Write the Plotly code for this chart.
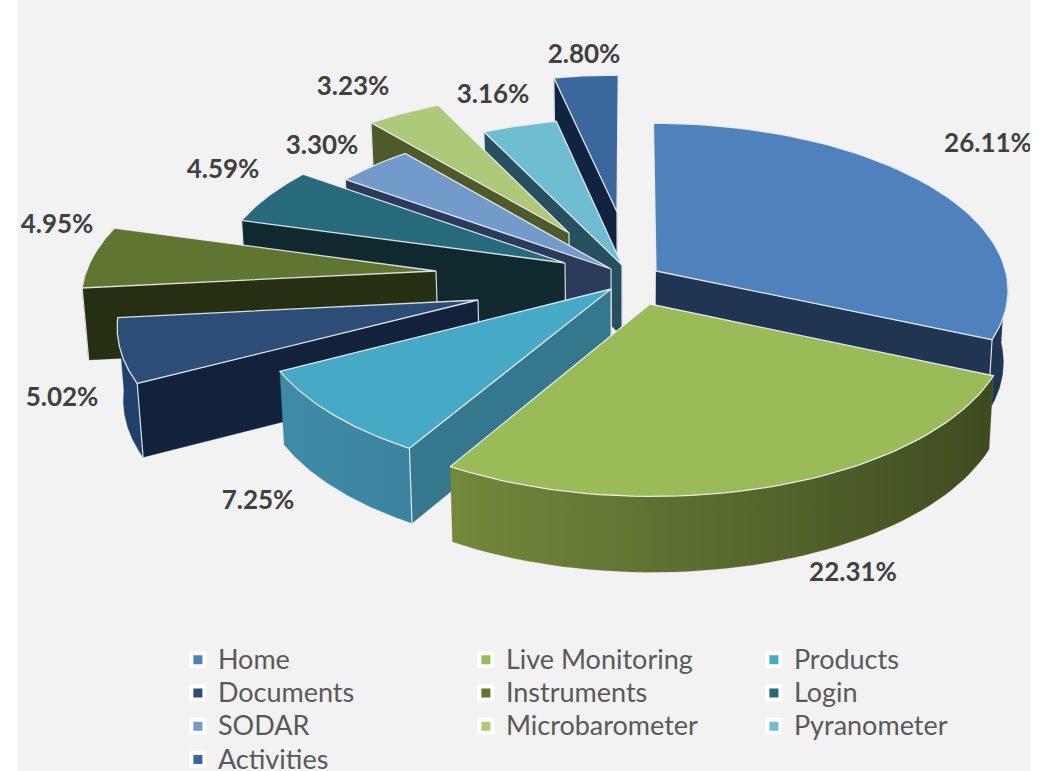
import numpy as np
import plotly.graph_objects as go

CATEGORIES = ["Home", "Live Monitoring", "Products", "Documents", "Instruments",
              "Login", "SODAR", "Microbarometer", "Pyranometer", "Activities"]
VALUES = [26.11, 22.31, 7.25, 5.02, 4.95, 4.59, 3.30, 3.23, 3.16, 2.80]

TOP = ["#4f81bd", "#9bbb59", "#46a9c5", "#2c4d75", "#5f7530",
       "#276a7c", "#729aca", "#afc97a", "#6fbdd1", "#3a679c"]
RADIAL = ["#1f3552", "#3f4a20", "#35778d", "#11223a", "#262f11",
          "#10292f", "#2a3a5a", "#4e5a2a", "#27505e", "#10233f"]
OUTER = [["#1f3552", "#1f3552"], ["#73893c", "#3e4b20"], ["#3f8ba6", "#3b84a0"], ["#21416b", "#21416b"],
         ["#262f11", "#262f11"], ["#10292f", "#10292f"], ["#2a3a5a", "#2a3a5a"], ["#4e5a2a", "#4e5a2a"],
         ["#27505e", "#27505e"], ["#10233f", "#10233f"]]
# where each exploded slice's tip ends up on the page
TIPS = [(656, 271), (650, 304), (611, 289), (478, 300), (436, 271),
        (565, 263), (611, 269), (569, 233), (622, 265), (617, 212)]
LABEL_AT = [(988, 145), (853, 574), (258, 502), (62, 399), (57, 226),
            (223, 171), (322, 147), (353, 88), (493, 96), (584, 56)]
DRAW_ORDER = [9, 8, 7, 6, 5, 4, 3, 2, 0, 1]

CX, CY, RX, RY, PERSP, DEPTH, CONVERGE = 630.0, 290.0, 354.0, 168.0, 0.11, 72.0, 0.012
EDGE = "rgba(236,241,245,0.9)"


def scale(Y):
    return 1.0 / (1.0 - PERSP * Y)


def project(X, Y, below=False):
    s = scale(Y)
    sx = CX + s * RX * X
    sy = CY + s * RY * Y
    if below:
        sy = sy + DEPTH * s ** 0.4
        sx = sx - (sx - CX) * CONVERGE
    return sx, sy


def unproject(px, py):
    d = py - CY
    Y = d / (RY + PERSP * d)
    return (px - CX) / (scale(Y) * RX), Y


shares = np.array(VALUES) / sum(VALUES) * 360.0
ends = np.cumsum(shares)
starts = ends - shares

fig = go.Figure()


def poly(xs, ys, color, line=None, gradient=None):
    kw = dict(x=list(xs) + [xs[0]], y=list(ys) + [ys[0]], mode="lines", fill="toself",
              showlegend=False, hoverinfo="skip",
              line=dict(color=line or color, width=1.3 if line else 0.3))
    if gradient:
        kw["fillgradient"] = dict(type="horizontal", colorscale=[[0, gradient[0]], [1, gradient[1]]])
    else:
        kw["fillcolor"] = color
    fig.add_trace(go.Scatter(**kw))


def vertical(X, Y):
    x0, y0 = project(X, Y)
    x1, y1 = project(X, Y, below=True)
    fig.add_trace(go.Scatter(x=[x0, x1], y=[y0, y1], mode="lines", showlegend=False,
                             hoverinfo="skip", line=dict(color=EDGE, width=1.2)))


for i in DRAW_ORDER:
    a, b = starts[i], ends[i]
    X0, Y0 = unproject(*TIPS[i])

    def rim(t):
        r = np.radians(t)
        return X0 + np.sin(r), Y0 - np.cos(r)

    # radial faces that look towards the viewer
    for t, visible in ((a, a > 180), (b, b < 180)):
        if visible:
            X1, Y1 = rim(t)
            p = [project(X0, Y0), project(X1, Y1), project(X1, Y1, True), project(X0, Y0, True)]
            poly([q[0] for q in p], [q[1] for q in p], RADIAL[i])
    # curved outer face
    lo, hi = max(a, 90), min(b, 270)
    if hi > lo:
        ts = np.linspace(lo, hi, 50)
        up = [project(*rim(t)) for t in ts]
        dn = [project(*rim(t), True) for t in ts[::-1]]
        p = up + dn
        poly([q[0] for q in p], [q[1] for q in p], OUTER[i][0], gradient=OUTER[i])
    # corner lines
    if a > 180:
        vertical(*rim(a))
        vertical(X0, Y0)
    if b < 180:
        vertical(*rim(b))
    # top face
    ts = np.linspace(a, b, 60)
    p = [project(X0, Y0)] + [project(*rim(t)) for t in ts]
    poly([q[0] for q in p], [q[1] for q in p], TOP[i], line=EDGE)

fig.add_trace(go.Scatter(
    x=[p[0] for p in LABEL_AT], y=[p[1] for p in LABEL_AT],
    text=[f"<b>{v:.2f}%</b>" for v in VALUES], mode="text", showlegend=False, hoverinfo="skip",
    textposition="middle center",
    textfont=dict(family="Lato", size=26, color="#404040")))

for name, color in zip(CATEGORIES, TOP):
    fig.add_trace(go.Scatter(x=[None], y=[None], mode="markers",
                             name=f'<span style="font-size:27px">{name}</span>',
                             marker=dict(symbol="square", size=13, color=color,
                                         line=dict(color="#ffffff", width=4))))

fig.update_layout(
    width=1048, height=771, margin=dict(l=18, r=18, t=0, b=0, autoexpand=False),
    paper_bgcolor="#ffffff", plot_bgcolor="#f2f2f2",
    xaxis=dict(range=[18, 1030], visible=False, fixedrange=True),
    yaxis=dict(range=[771, 0], visible=False, fixedrange=True),
    legend=dict(orientation="h", x=0.158, xanchor="left", y=0.1725, yanchor="top",
                entrywidth=243, entrywidthmode="pixels", bgcolor="rgba(0,0,0,0)",
                font=dict(family="Lato", size=23.3, color="#595959"), traceorder="normal"),
)
fig.write_html("out.html", post_script="document.body.style.margin='0';",
               config={"displayModeBar": False})
